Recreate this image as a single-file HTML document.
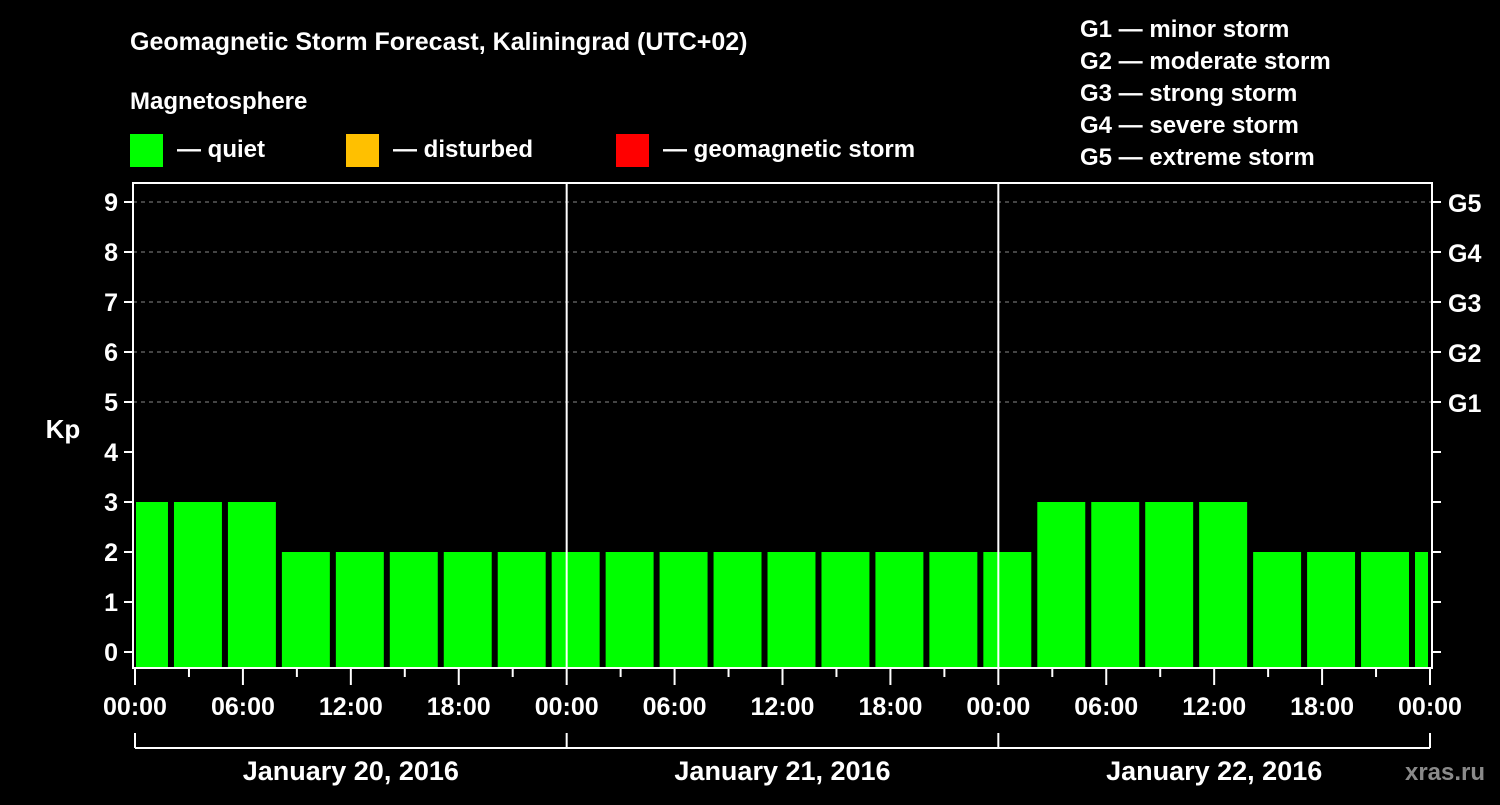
<!DOCTYPE html>
<html><head><meta charset="utf-8"><style>
html,body{margin:0;padding:0;background:#000;}
svg text{font-family:"Liberation Sans",Arial,sans-serif;font-weight:bold;fill:#fff;}
</style></head><body>
<svg width="1500" height="800" viewBox="0 0 1500 800">
<rect width="1500" height="800" fill="#000"/>
<text x="130" y="50" font-size="25">Geomagnetic Storm Forecast, Kaliningrad (UTC+02)</text>
<text x="130" y="109" font-size="24">Magnetosphere</text>
<g><rect x="130" y="134" width="33" height="33" fill="#00ff00"/><text x="177" y="157" font-size="24">— quiet</text></g>
<g><rect x="346" y="134" width="33" height="33" fill="#ffc000"/><text x="393" y="157" font-size="24">— disturbed</text></g>
<g><rect x="616" y="134" width="33" height="33" fill="#ff0000"/><text x="663" y="157" font-size="24">— geomagnetic storm</text></g>
<g font-size="24">
<text x="1080" y="37">G1 — minor storm</text>
<text x="1080" y="69">G2 — moderate storm</text>
<text x="1080" y="101">G3 — strong storm</text>
<text x="1080" y="133">G4 — severe storm</text>
<text x="1080" y="165">G5 — extreme storm</text>
</g>
<g id="grid"></g>
<g id="bars"></g>
<g id="axes"></g>
<text x="63" y="438" font-size="26" text-anchor="middle">Kp</text>
<text x="1445" y="780" font-size="24" text-anchor="middle" fill="#888" style="fill:#8a8a8a">xras.ru</text>
</svg>
<script>
const kpValues=[3,3,3,2,2,2,2,2,2,2,2,2,2,2,2,2,2,3,3,3,3,2,2,2,2];
const barStartHours=-1; // first interval starts at 02:00 local minus 3h
const dayLabels=["January 20, 2016","January 21, 2016","January 22, 2016"];
const hourLabels=["00:00","06:00","12:00","18:00"];
const gLabels=["G1","G2","G3","G4","G5"];
const NS="http://www.w3.org/2000/svg";
const L=133,R=1432,T=183,B=668;
const pxPerHour=(1430-135)/72;
function x(h){return 135+h*pxPerHour;}
function y(v){return 652-50*v;}
function mk(tag,attrs,parent){const e=document.createElementNS(NS,tag);for(const k in attrs)e.setAttribute(k,attrs[k]);parent.appendChild(e);return e;}
const grid=document.getElementById('grid'),bars=document.getElementById('bars'),axes=document.getElementById('axes');
for(let v=5;v<=9;v++){const l=mk('line',{x1:L,x2:R,y1:y(v),y2:y(v),stroke:'#888','stroke-dasharray':'4,4','stroke-width':1},grid);

}
kpValues.forEach((v,i)=>{
 const h0=2+(i+barStartHours)*3;
 let x0=x(h0)+3,x1=x(h0+3)-3;
 x0=Math.max(x0,L+3);x1=Math.min(x1,R-4);
 const c=v>=5?'#ff0000':(v>=4?'#ffc000':'#00ff00');
 const r=mk('rect',{x:x0,y:y(v),width:x1-x0,height:B-y(v),fill:c},bars);
 
 
});
mk('rect',{x:L,y:T,width:R-L,height:B-T,fill:'none',stroke:'#fff','stroke-width':2},axes);
for(let d=1;d<3;d++){const l=mk('line',{x1:x(24*d),x2:x(24*d),y1:T,y2:B,stroke:'#fff','stroke-width':2},axes);

}
for(let v=0;v<=9;v++){
 mk('line',{x1:L-9,x2:L,y1:y(v),y2:y(v),stroke:'#fff','stroke-width':2},axes);
 mk('line',{x1:R,x2:R+9,y1:y(v),y2:y(v),stroke:'#fff','stroke-width':2},axes);
 const t=mk('text',{x:L-15,y:y(v)+9,'font-size':25,'text-anchor':'end'},axes);t.textContent=v;
 
 
 if(v>=5){const g=mk('text',{x:R+16,y:y(v)+10,'font-size':25},axes);g.textContent=gLabels[v-5];
 
 }
}
for(let h=0;h<=72;h+=3){
 const major=h%6===0;
 mk('line',{x1:x(h),x2:x(h),y1:B,y2:major?685:677,stroke:'#fff','stroke-width':2},axes);
 if(major){const t=mk('text',{x:x(h),y:715,'font-size':25,'text-anchor':'middle'},axes);t.textContent=hourLabels[(h/6)%4];
 
 }
}
mk('line',{x1:x(0),x2:x(72),y1:748,y2:748,stroke:'#fff','stroke-width':2},axes);
for(let d=0;d<=3;d++)mk('line',{x1:x(24*d),x2:x(24*d),y1:733,y2:748,stroke:'#fff','stroke-width':2},axes);
dayLabels.forEach((s,d)=>{const t=mk('text',{x:x(24*d+12),y:780,'font-size':27,'text-anchor':'middle'},axes);t.textContent=s;
 
 });
</script>
</body></html>
